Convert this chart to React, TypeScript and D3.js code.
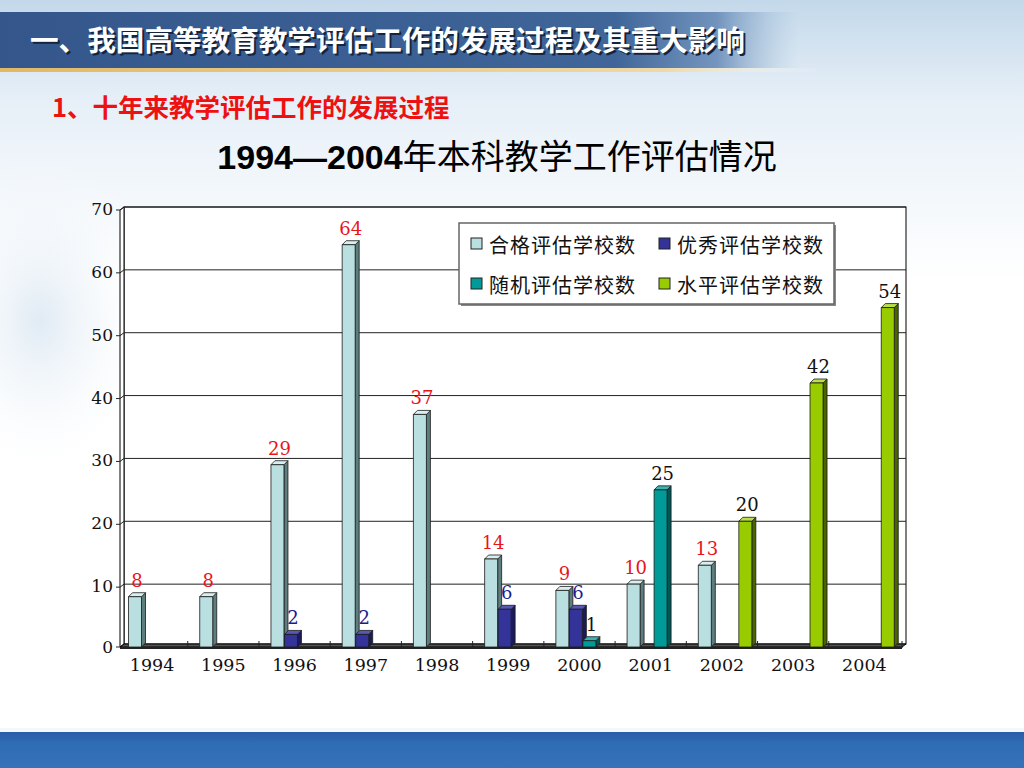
import * as d3 from "d3";

const years = ["1994", "1995", "1996", "1997", "1998", "1999", "2000", "2001", "2002", "2003", "2004"];
const qualified = [8, 8, 29, 64, 37, 14, 9, 10, 13, 0, 0];
const excellent = [0, 0, 2, 2, 0, 6, 6, 0, 0, 0, 0];
const randomEval = [0, 0, 0, 0, 0, 0, 1, 25, 0, 0, 0];
const levelEval = [0, 0, 0, 0, 0, 0, 0, 0, 20, 42, 54];
const seriesNames = ["合格评估学校数", "优秀评估学校数", "随机评估学校数", "水平评估学校数"];
const yTicks = [0, 10, 20, 30, 40, 50, 60, 70];

const series = [qualified, excellent, randomEval, levelEval];
const faceColors = ["#b9dfe1", "#333399", "#009a99", "#99cc00"];
const sideColors = ["#5e7d7e", "#1b1b5c", "#005555", "#4a6400"];
const topColors = ["#d9eeee", "#5757b5", "#3db3b2", "#b9e045"];
const labelColors = ["#e8141c", "#1c1c8c", "#111111", "#111111"];

const cjk = "'Noto Sans CJK SC', sans-serif";
const serif = "'DejaVu Serif', serif";

export default function App() {
  const x0 = d3.scaleBand().domain(years).range([116.5, 900]);
  const x1 = d3.scaleBand<number>().domain([0, 1, 2, 3]).range([12, 66]);
  const y = d3.scaleLinear().domain([0, 70]).range([647, 207]);
  const d = 4; // 3D depth
  const bw = x1.bandwidth() - 0.5;
  const base = y(0);

  return (
    <svg width={1024} height={768} style={{ position: "fixed", left: 0, top: 0 }}>
      <defs>
        <linearGradient id="sky" x1="0" y1="0" x2="0" y2="1">
          <stop offset="0" stopColor="#c3d8ea" />
          <stop offset="0.35" stopColor="#e6eff7" />
          <stop offset="1" stopColor="#ffffff" />
        </linearGradient>
        <radialGradient id="skyLeft" cx="0.5" cy="0.5" r="0.5">
          <stop offset="0" stopColor="#d2e2ef" stopOpacity="0.7" />
          <stop offset="1" stopColor="#ffffff" stopOpacity="0" />
        </radialGradient>
        <linearGradient id="band" x1="0" y1="0" x2="1" y2="0">
          <stop offset="0" stopColor="#34568b" />
          <stop offset="0.6" stopColor="#3f6599" />
          <stop offset="0.7" stopColor="#5a80b0" stopOpacity="0.8" />
          <stop offset="0.78" stopColor="#9dbbd6" stopOpacity="0" />
        </linearGradient>
        <linearGradient id="gold" x1="0" y1="0" x2="1" y2="0">
          <stop offset="0" stopColor="#e2b866" />
          <stop offset="0.65" stopColor="#efd9a8" />
          <stop offset="0.8" stopColor="#ffffff" stopOpacity="0" />
        </linearGradient>
        <linearGradient id="footer" x1="0" y1="0" x2="0" y2="1">
          <stop offset="0" stopColor="#2b5ca8" />
          <stop offset="0.3" stopColor="#2f6cb3" />
          <stop offset="1" stopColor="#3472ba" />
        </linearGradient>
      </defs>

      {/* background */}
      <rect width={1024} height={768} fill="#ffffff" />
      <rect width={1024} height={280} fill="url(#sky)" />
      <ellipse cx={40} cy={320} rx={120} ry={170} fill="url(#skyLeft)" />

      {/* header band */}
      <rect x={0} y={12} width={1024} height={56} fill="url(#band)" />
      <rect x={0} y={68} width={1024} height={4} fill="url(#gold)" />
      <text x={32} y={53} fontFamily={cjk} fontWeight="bold" fontSize={28.6} fill="#14243c">
        一、我国高等教育教学评估工作的发展过程及其重大影响
      </text>
      <text x={30} y={51} fontFamily={cjk} fontWeight="bold" fontSize={28.6} fill="#ffffff">
        一、我国高等教育教学评估工作的发展过程及其重大影响
      </text>

      {/* subtitle */}
      <text x={52} y={117} fontFamily={cjk} fontWeight="bold" fontSize={25.5} fill="#ee1111">
        1、十年来教学评估工作的发展过程
      </text>

      {/* chart title */}
      <text x={497} y={169} textAnchor="middle" fontSize={34} fill="#000">
        <tspan fontFamily="'Liberation Sans', Arial, sans-serif" fontWeight="bold">1994—2004</tspan>
        <tspan fontFamily={cjk}>年本科教学工作评估情况</tspan>
      </text>

      {/* plot walls */}
      <rect x={124} y={207} width={782} height={base - 207 - 3} fill="#ffffff" stroke="#000" strokeWidth={1} />
      <polygon points={`120,210 124,207 124,${base - 3} 120,${base}`} fill="#ffffff" stroke="#000" strokeWidth={1} />
      <polygon points={`120,${base} 124,${base - 3} 906,${base - 3} 902,${base}`} fill="#555" stroke="#000" strokeWidth={1} />
      <line x1={120} x2={902} y1={base + 1} y2={base + 1} stroke="#222" strokeWidth={2} />

      {/* grid + y axis */}
      {yTicks.map((t) => (
        <g key={t}>
          {t > 0 && <line x1={124} x2={906} y1={y(t)} y2={y(t)} stroke="#222" strokeWidth={1} />}
          {t > 0 && <line x1={120} x2={124} y1={y(t) + 3} y2={y(t)} stroke="#222" strokeWidth={1} />}
          <line x1={116} x2={120} y1={t > 0 ? y(t) + 3 : base} y2={t > 0 ? y(t) + 3 : base} stroke="#222" strokeWidth={1} />
          <text x={113} y={t > 0 ? y(t) + 2 : base} textAnchor="end" dominantBaseline="central" fontFamily={serif} fontSize={17} fill="#111">
            {t}
          </text>
        </g>
      ))}

      {/* x ticks and labels */}
      {years.map((yr, i) => (
        <g key={yr}>
          {i > 0 && <line x1={x0(yr)!} x2={x0(yr)!} y1={base - 6} y2={base + 1} stroke="#222" strokeWidth={1} />}
          <text x={x0(yr)! + x0.bandwidth() / 2} y={665} textAnchor="middle" dominantBaseline="central" fontFamily={serif} fontSize={17.5} fill="#111">
            {yr}
          </text>
        </g>
      ))}
      <line x1={902} x2={902} y1={base - 6} y2={base + 1} stroke="#222" strokeWidth={1} />

      {/* bars */}
      {years.map((yr, i) =>
        series.map((s, k) => {
          const v = s[i];
          if (!v) return null;
          const bx = x0(yr)! + x1(k)!;
          const yt = y(v);
          return (
            <g key={`${yr}-${k}`} stroke="#1a1a1a" strokeWidth={0.8} strokeLinejoin="round">
              <polygon points={`${bx + bw},${yt} ${bx + bw + d},${yt - d} ${bx + bw + d},${base - d} ${bx + bw},${base}`} fill={sideColors[k]} />
              <polygon points={`${bx},${yt} ${bx + d},${yt - d} ${bx + bw + d},${yt - d} ${bx + bw},${yt}`} fill={topColors[k]} />
              <rect x={bx} y={yt} width={bw} height={base - yt} fill={faceColors[k]} />
              <text x={bx + bw / 2 + 2} y={yt - 10} textAnchor="middle" fontFamily={serif} fontSize={18} fill={labelColors[k]} stroke="none">
                {v}
              </text>
            </g>
          );
        })
      )}

      {/* legend */}
      <rect x={461} y={225} width={375} height={81} fill="#888" />
      <rect x={459} y={223} width={375} height={81} fill="#ffffff" stroke="#666" strokeWidth={1.5} />
      {seriesNames.map((name, k) => {
        const lx = k % 2 === 0 ? 471 : 659;
        const ly = k < 2 ? 244 : 284;
        return (
          <g key={name}>
            <rect x={lx} y={ly - 6} width={11} height={11} fill={faceColors[k]} stroke="#222" strokeWidth={1} />
            <text x={lx + 18} y={ly} dominantBaseline="central" fontFamily={cjk} fontSize={20} letterSpacing={1} fill="#111">
              {name}
            </text>
          </g>
        );
      })}

      {/* footer */}
      <rect x={0} y={732} width={1024} height={36} fill="url(#footer)" />
      <rect x={0} y={728} width={1024} height={4} fill="#f4f8fb" />
    </svg>
  );
}
